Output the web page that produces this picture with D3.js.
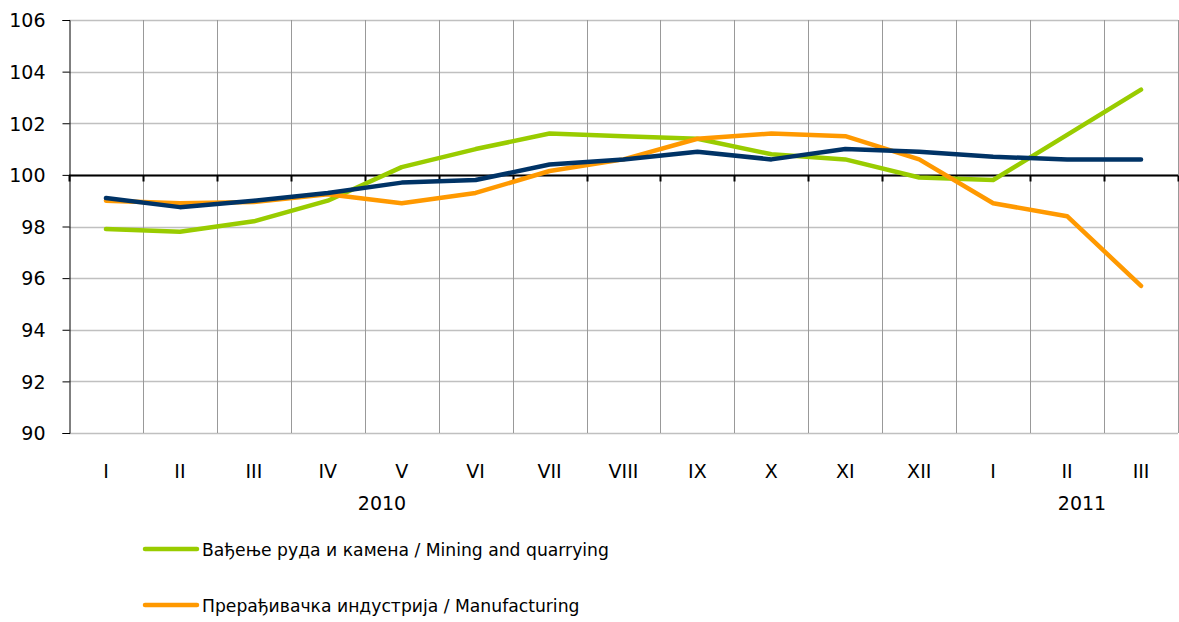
<!DOCTYPE html>
<html>
<head>
<meta charset="utf-8">
<script src="https://cdn.jsdelivr.net/npm/d3@7"></script>
<style>
  html, body { margin: 0; padding: 0; background: #fff; }
  svg { display: block; }
  text { font-family: "DejaVu Sans", Verdana, sans-serif; fill: #000; }
</style>
</head>
<body>
<svg id="chart" width="1179" height="622"></svg>
<script>
// ---- data ----
const months = ["I","II","III","IV","V","VI","VII","VIII","IX","X","XI","XII","I","II","III"];
const years = ["2010", "2011"];
const yTicks = [90, 92, 94, 96, 98, 100, 102, 104, 106];

const miningName = "Вађење руда и камена / Mining and quarrying";
const mining = [97.9, 97.8, 98.2, 99.0, 100.3, 101.0, 101.6, 101.5, 101.4, 100.8, 100.6, 99.9, 99.8, 101.55, 103.3];

const manufName = "Прерађивачка индустрија / Manufacturing";
const manufacturing = [99.0, 98.9, 98.95, 99.25, 98.9, 99.3, 100.15, 100.6, 101.4, 101.6, 101.5, 100.6, 98.9, 98.4, 95.7];

const totalName = "Укупно / Total";
const total = [99.1, 98.75, 99.0, 99.3, 99.7, 99.8, 100.4, 100.6, 100.9, 100.6, 101.0, 100.9, 100.7, 100.6, 100.6];

const series = [
  { name: miningName, values: mining, color: "#99cc00", legend: true },
  { name: manufName, values: manufacturing, color: "#ff9900", legend: true },
  { name: totalName, values: total, color: "#003366", legend: false }
];

// ---- layout ----
const svg = d3.select("#chart");
const pLeft = 69, pRight = 1178, pTop = 20, pBottom = 433;

const idx = months.map((d, i) => i);
const x = d3.scaleBand().domain(idx).range([pLeft, pRight]).padding(0);
const y = d3.scaleLinear().domain([90, 106]).range([pBottom, pTop]);

// horizontal gridlines
svg.append("g").selectAll("line").data(yTicks).join("line")
  .attr("x1", pLeft).attr("x2", pRight)
  .attr("y1", d => Math.round(y(d)) + 0.5).attr("y2", d => Math.round(y(d)) + 0.5)
  .attr("stroke", "#c0c0c0").attr("stroke-width", 1.5);

// vertical gridlines (category boundaries)
const bounds = idx.map(i => x(i)).concat([x(idx[idx.length - 1]) + x.bandwidth()]);
svg.append("g").selectAll("line").data(bounds.slice(1)).join("line")
  .attr("x1", d => Math.round(d) + 0.5).attr("x2", d => Math.round(d) + 0.5)
  .attr("y1", pTop).attr("y2", pBottom)
  .attr("stroke", "#999999").attr("stroke-width", 1);

// y axis
const yAxis = d3.axisLeft(y).tickValues(yTicks).tickSize(7).tickPadding(17).tickFormat(d3.format("d"));
const gy = svg.append("g").attr("transform", `translate(${pLeft + 0.5},0)`).call(yAxis);
gy.select(".domain").attr("stroke", "#000");
gy.selectAll(".tick line").attr("stroke", "#000");
gy.selectAll(".tick text").style("font-size", "19px").attr("dy", "0.36em");

// category axis line at 100
const x0 = Math.round(y(100)) + 0.5;
svg.append("line").attr("x1", pLeft).attr("x2", pRight).attr("y1", x0).attr("y2", x0)
  .attr("stroke", "#000").attr("stroke-width", 2);
svg.append("g").selectAll("line").data(bounds).join("line")
  .attr("x1", d => Math.round(d) + 0.5).attr("x2", d => Math.round(d) + 0.5)
  .attr("y1", x0).attr("y2", x0 + 6)
  .attr("stroke", "#000").attr("stroke-width", 2);

// category labels
svg.append("g").selectAll("text").data(idx).join("text")
  .attr("x", i => x(i) + x.bandwidth() / 2)
  .attr("y", 478)
  .attr("text-anchor", "middle")
  .style("font-size", "19px")
  .text(i => months[i]);

// year labels
const yearPos = [{ label: years[0], at: 382 }, { label: years[1], at: 1082 }];
svg.append("g").selectAll("text").data(yearPos).join("text")
  .attr("x", d => d.at).attr("y", 510)
  .attr("text-anchor", "middle")
  .style("font-size", "19px")
  .text(d => d.label);

// lines
const line = d3.line().x((d, i) => x(i) + x.bandwidth() / 2).y(d => y(d));
svg.append("g").selectAll("path").data(series).join("path")
  .attr("d", d => line(d.values))
  .attr("fill", "none")
  .attr("stroke", d => d.color)
  .attr("stroke-width", 4.5)
  .attr("stroke-linejoin", "round")
  .attr("stroke-linecap", "round");

// legend
const leg = series.filter(s => s.legend);
const lg = svg.append("g").selectAll("g").data(leg).join("g")
  .attr("transform", (d, i) => `translate(145,${549 + i * 56})`);
lg.append("line").attr("x1", 0).attr("x2", 52).attr("y1", 0).attr("y2", 0)
  .attr("stroke", d => d.color).attr("stroke-width", 4.5).attr("stroke-linecap", "round");
lg.append("text").attr("x", 57).attr("y", 7)
  .style("font-size", "17.2px")
  .text(d => d.name);
</script>
</body>
</html>
